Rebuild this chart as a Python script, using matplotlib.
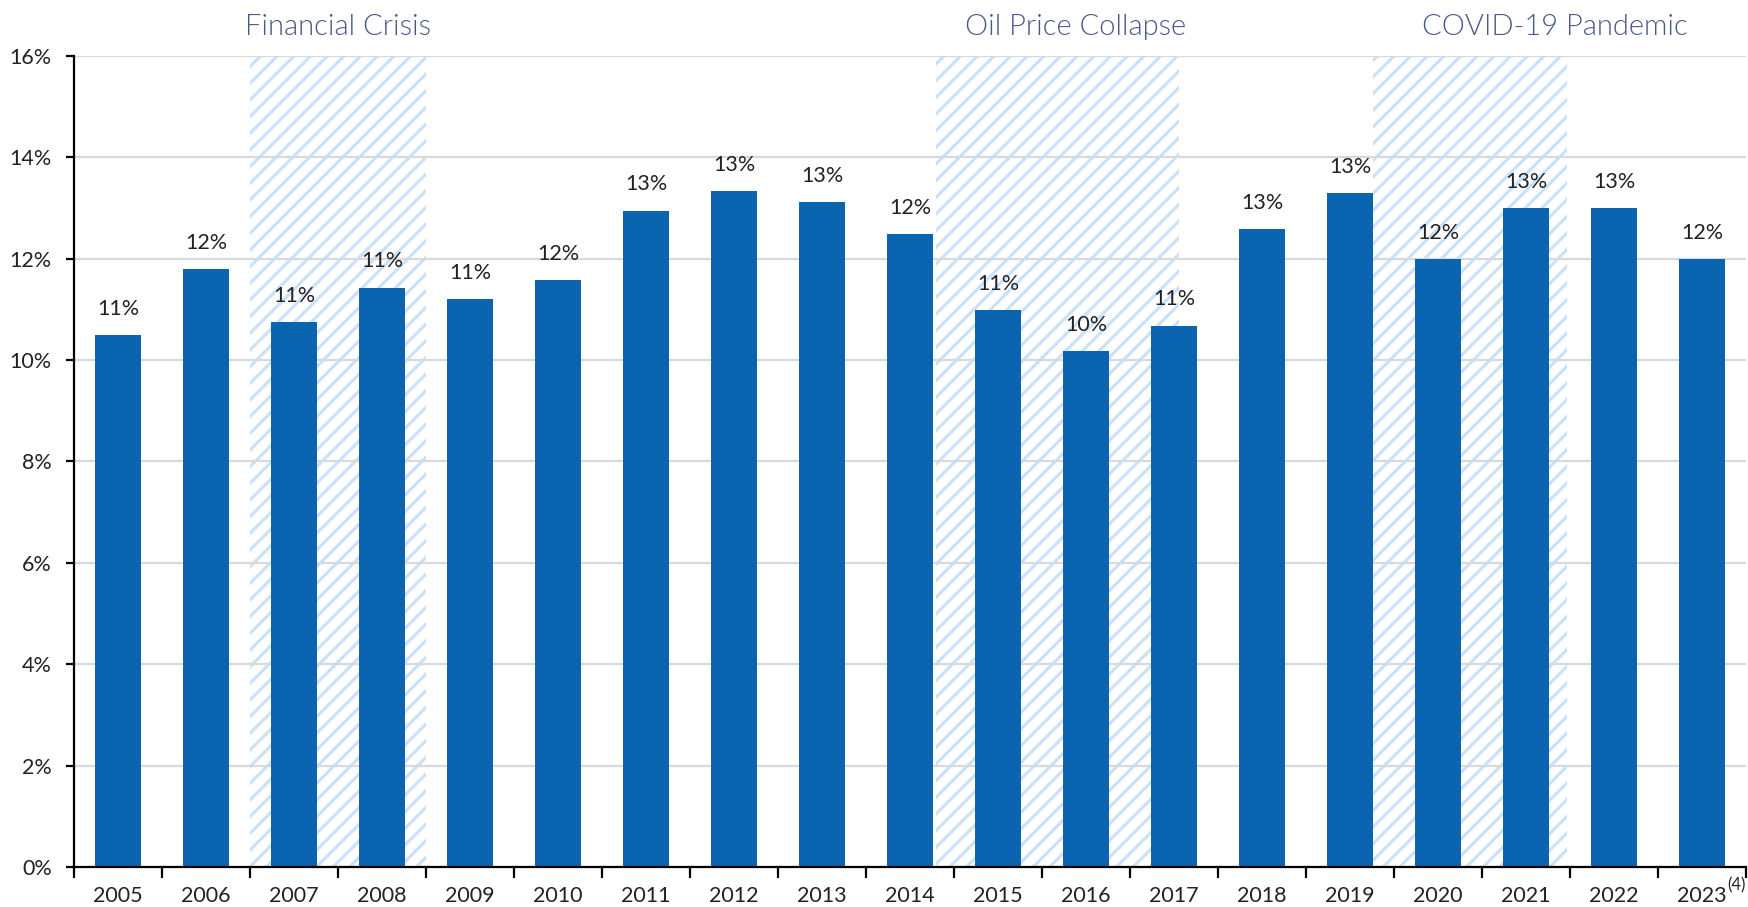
import matplotlib.pyplot as plt
import matplotlib as mpl

years = ["2005", "2006", "2007", "2008", "2009", "2010", "2011", "2012", "2013", "2014",
         "2015", "2016", "2017", "2018", "2019", "2020", "2021", "2022", "2023"]
values = [10.5, 11.8, 10.75, 11.43, 11.21, 11.58, 12.95, 13.34, 13.12, 12.48,
          10.99, 10.18, 10.68, 12.59, 13.30, 12.0, 13.0, 13.0, 12.0]
labels = ["11%", "12%", "11%", "11%", "11%", "12%", "13%", "13%", "13%", "12%",
          "11%", "10%", "11%", "13%", "13%", "12%", "13%", "13%", "12%"]

# shaded periods, in category index units
periods = ["Financial Crisis", "Oil Price Collapse", "COVID-19 Pandemic"]
period_start = [1.5, 9.3, 14.26]
period_end = [3.5, 12.06, 16.47]
period_label_x = [2.5, 10.88, 16.33]

BAR = "#0B64AF"
HATCH = "#C9E2F9"
NOTE = "#475A8A"

mpl.rcParams["font.family"] = ["Lato", "DejaVu Sans"]
mpl.rcParams["hatch.linewidth"] = 2.3

fig = plt.figure(figsize=(17.48, 9.07), dpi=100)
ax = fig.add_axes([0.0423, 0.0441, 0.9566, 0.8942])

x = list(range(len(years)))

for s, e in zip(period_start, period_end):
    ax.axvspan(s, e, facecolor="white", edgecolor=HATCH, hatch="//",
               linewidth=0, zorder=0.2)
for name, lx in zip(periods, period_label_x):
    ax.text(lx, 16.32, name, ha="center", va="bottom",
            fontsize=21, fontweight=300, color=NOTE)

ax.bar(x, values, width=0.52, color=BAR, zorder=2)
for xi, v, lab in zip(x, values, labels):
    ax.text(xi, v + 0.32, lab, ha="center", va="bottom", fontsize=15.5, color="#222222")

ax.set_xlim(-0.5, len(years) - 0.5)
ax.set_ylim(0, 16)
ax.set_yticks(range(0, 17, 2))
ax.set_yticklabels([f"{t}%" for t in range(0, 17, 2)], fontsize=15.5, color="#222222")

ax.grid(axis="y", color="#D9D9D9", linewidth=1.6, zorder=0.5)
ax.set_axisbelow(True)

# year labels between boundary ticks
ax.set_xticks([i - 0.5 for i in range(len(years) + 1)])
ax.set_xticklabels([])
ax.set_xticks(x, minor=True)
ax.set_xticklabels(years, minor=True, fontsize=15.5, color="#222222")
ax.tick_params(axis="x", which="minor", length=0, pad=14)
ax.tick_params(axis="x", which="major", length=8, width=1.6, color="black")
ax.tick_params(axis="y", length=6, width=1.6, pad=10)
ax.text(18.29, -0.2, "(4)", fontsize=12, color="#222222", ha="left", va="top",
        clip_on=False)

for side in ["top", "right"]:
    ax.spines[side].set_visible(False)
for side in ["left", "bottom"]:
    ax.spines[side].set_linewidth(1.6)
    ax.spines[side].set_color("black")

fig.savefig("out.png", dpi=100)
